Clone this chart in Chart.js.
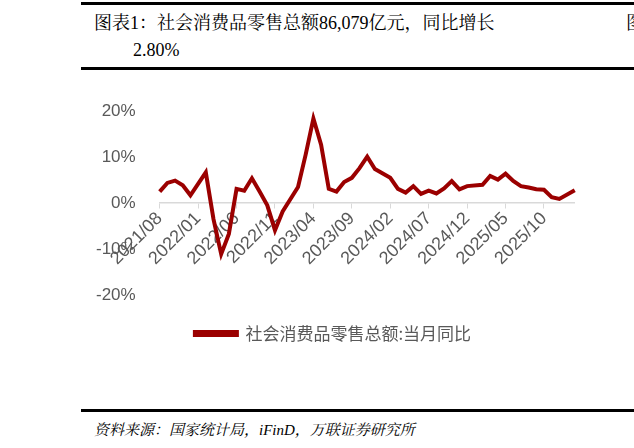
<!DOCTYPE html>
<html><head><meta charset="utf-8">
<script src="https://cdn.jsdelivr.net/npm/chart.js@4"></script>
<style>
body{margin:0;width:634px;height:448px;background:#fff;position:relative;overflow:hidden;font-family:"Liberation Serif","Noto Serif CJK SC","Noto Sans CJK SC",serif}
.hl{position:absolute;left:81px;right:0;background:#000}
.t{position:absolute;color:#000;white-space:nowrap}
#wrap{position:absolute;left:80px;top:85px;width:510px;height:275px}
</style></head><body>
<div class="hl" style="top:2px;height:3px"></div>
<div class="hl" style="top:67px;height:3px"></div>
<div class="hl" style="top:409px;height:3px"></div>
<div class="t" style="left:94px;top:8px;font-size:18px">图表1：社会消费品零售总额86,079亿元，同比增长</div>
<div class="t" style="left:133px;top:40px;font-size:18px">2.80%</div>
<div class="t" style="left:626px;top:8px;font-size:18px">图</div>
<div class="t" style="left:94px;top:418px;font-size:15px;font-style:italic">资料来源：国家统计局，iFinD，万联证券研究所</div>
<div id="wrap"><canvas id="c"></canvas></div>
<script>
const labels=[];
for(let y=2021,m=8;!(y===2026&&m===3);){labels.push(y+'/'+String(m).padStart(2,'0'));m++;if(m>12){m=1;y++;}}
const values=[2.5,4.4,4.9,3.9,1.7,null,6.7,-3.5,-11.1,-6.7,3.1,2.7,5.4,2.5,-0.5,-5.9,-1.8,null,3.5,10.6,18.4,12.7,3.1,2.5,4.6,5.5,7.6,10.1,7.4,null,5.5,3.1,2.3,3.7,2.0,2.7,2.1,3.2,4.8,3.0,3.7,null,4.0,5.9,5.1,6.4,4.8,3.7,3.4,3.0,2.9,1.3,0.9,null,2.8];
const yTicks=[-20,-10,0,10,20];
new Chart(document.getElementById('c'),{type:'line',
data:{labels,datasets:[{label:'社会消费品零售总额:当月同比',data:values,borderColor:'#9b0000',backgroundColor:'#9b0000',borderWidth:4,pointRadius:0,spanGaps:true,tension:0}]},
options:{responsive:true,maintainAspectRatio:false,animation:false,
layout:{padding:{top:5,right:4,left:0,bottom:8}},
plugins:{legend:{position:'bottom',labels:{boxWidth:42,boxHeight:3,color:'#595959',font:{size:17,family:'"Noto Sans CJK SC"'},padding:30}}},
scales:{x:{position:{y:0},offset:false,grid:{display:true,drawOnChartArea:false,tickLength:5,color:'#d9d9d9',lineWidth:c=>c.index%5===0?1:0},border:{display:true,color:'#d9d9d9',width:1.5},
ticks:{autoSkip:false,maxRotation:45,minRotation:45,color:'#595959',font:{size:18,family:'Liberation Sans'},padding:0,callback:function(v,i){return i%5===0?labels[i]:''}}},
y:{min:-20,max:20,afterBuildTicks:a=>{a.ticks=yTicks.map(v=>({value:v}))},
grid:{display:false},border:{display:false},
ticks:{color:'#595959',padding:16,font:{size:17,family:'Liberation Sans'},callback:v=>v+'%'}}}}});
</script></body></html>
